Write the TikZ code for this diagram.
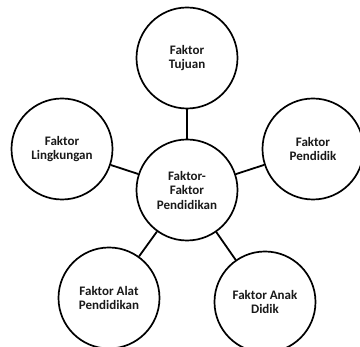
\documentclass[tikz,border=0pt]{standalone}
\usepackage{fontspec}
\setmainfont{Carlito}
\begin{document}
\begin{tikzpicture}[x=1pt,y=-1pt,
  bubble/.style={circle,draw=black,line width=1.7pt,minimum size=101pt,inner sep=0pt,align=center,font=\bfseries\fontsize{13}{14.5}\selectfont,text=black!90},
  link/.style={draw=black,line width=1.8pt}]
\useasboundingbox (0,0) rectangle (360,347);
\node[bubble] (c) at (187,190) {Faktor-\\Faktor\\Pendidikan};
\node[bubble] (t) at (187,58) {Faktor\\Tujuan};
\node[bubble] (l) at (62,149) {Faktor\\Lingkungan};
\node[bubble] (r) at (313,149) {Faktor\\Pendidik};
\node[bubble] (bl) at (109,298) {Faktor Alat\\Pendidikan};
\node[bubble] (br) at (265,302) {Faktor Anak\\Didik};
\foreach \n in {t,l,r,bl,br} \draw[link] (c) -- (\n);
\end{tikzpicture}
\end{document}
